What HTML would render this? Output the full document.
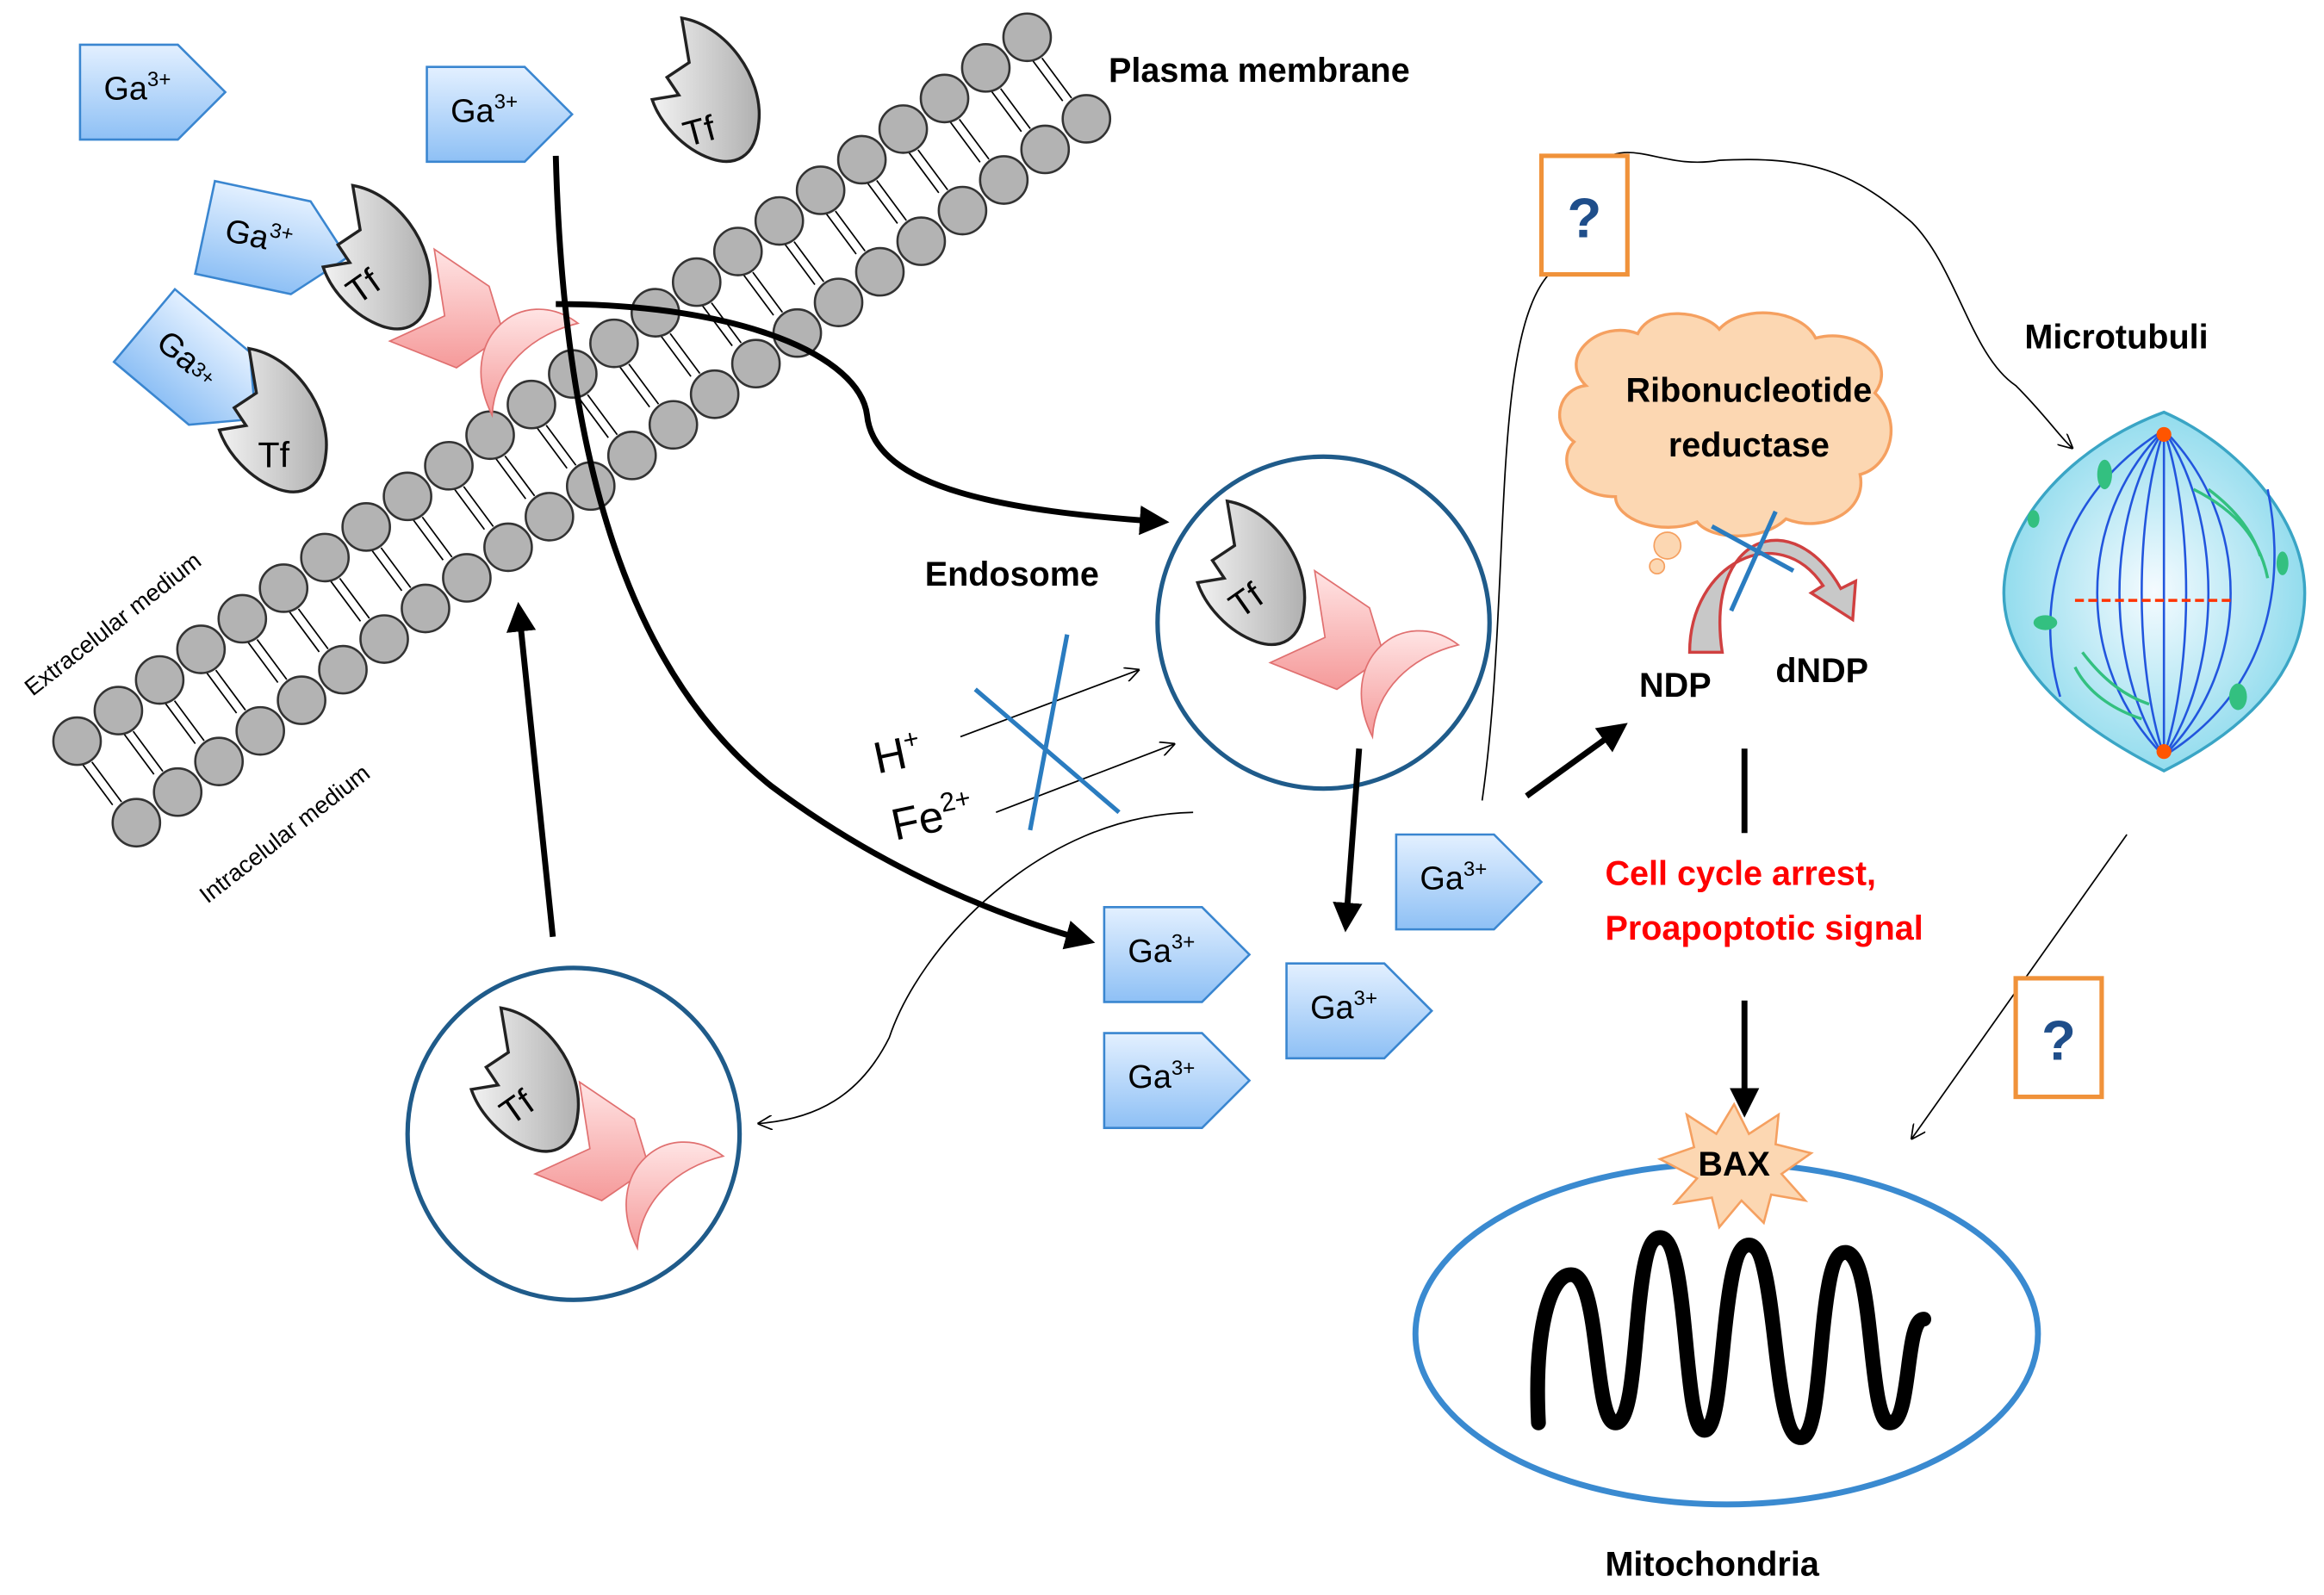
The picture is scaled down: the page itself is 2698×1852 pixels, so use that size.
<!DOCTYPE html>
<html><head><meta charset="utf-8"><style>
html,body{margin:0;padding:0;background:#fff;}
svg{display:block;}
text{font-family:"Liberation Sans",sans-serif;}
</style></head><body>
<svg id="s" width="2698" height="1852" viewBox="0 0 1568 1076" xmlns="http://www.w3.org/2000/svg">
<defs>
<linearGradient id="gb" x1="0" y1="0" x2="0" y2="1"><stop offset="0" stop-color="#e3f0ff"/><stop offset="1" stop-color="#8ec0f5"/></linearGradient>
<linearGradient id="gg" x1="0" y1="0" x2="1" y2="0"><stop offset="0" stop-color="#f2f2f2"/><stop offset="1" stop-color="#b0b0b0"/></linearGradient>
<linearGradient id="gp" x1="0" y1="0" x2="0" y2="1"><stop offset="0" stop-color="#ffe4e4"/><stop offset="1" stop-color="#f59a9a"/></linearGradient>
<radialGradient id="gc" cx="0.5" cy="0.5" r="0.6"><stop offset="0" stop-color="#f5fbff"/><stop offset="1" stop-color="#7fd6ea"/></radialGradient>
<marker id="ah" viewBox="0 0 10 10" refX="8" refY="5" markerWidth="5" markerHeight="5" orient="auto"><path d="M0,0 L10,5 L0,10 z" fill="#000"/></marker>
<marker id="at" viewBox="0 0 10 10" refX="9" refY="5" markerWidth="10" markerHeight="10" orient="auto"><path d="M0,0 L10,5 L0,10" fill="none" stroke="#000" stroke-width="1"/></marker>
<g id="ga"><path d="M0,0 H66 L98,32 L66,64 H0 Z" fill="url(#gb)" stroke="#3a86d0" stroke-width="1.5"/></g>
<g id="tf"><path d="M20,0 C50,5 75,40 72,70 C70,95 55,100 40,95 C20,88 5,70 0,55 L18,52 L10,40 L25,30 Z" fill="url(#gg)" stroke="#222" stroke-width="2"/></g>
<g id="rc"><path d="M25,0 L62,25 L72,58 L40,80 L-5,62 L32,45 Z" fill="url(#gp)" stroke="#e07070" stroke-width="1"/><path d="M122,50 C85,22 38,60 64,112 C66,80 90,58 122,50 Z" fill="url(#gp)" stroke="#e07070" stroke-width="1"/></g>
</defs>
<g id="mem"></g>

<use href="#ga" x="54" y="30"/><text x="70" y="67" font-size="22">Ga<tspan font-size="14" dy="-9">3+</tspan></text>
<use href="#ga" x="288" y="45"/><text x="304" y="82" font-size="22">Ga<tspan font-size="14" dy="-9">3+</tspan></text>
<g transform="translate(145,122) rotate(12)"><use href="#ga" x="0" y="0"/><text x="14" y="38" font-size="22">Ga<tspan font-size="14" dy="-9">3+</tspan></text></g>
<g transform="translate(118,195) rotate(40)"><use href="#ga" x="0" y="0"/><text x="14" y="38" font-size="22">Ga<tspan font-size="14" dy="-2">3+</tspan></text></g>
<use href="#ga" x="745" y="612"/><text x="761" y="649" font-size="22">Ga<tspan font-size="14" dy="-9">3+</tspan></text>
<use href="#ga" x="745" y="697"/><text x="761" y="734" font-size="22">Ga<tspan font-size="14" dy="-9">3+</tspan></text>
<use href="#ga" x="868" y="650"/><text x="884" y="687" font-size="22">Ga<tspan font-size="14" dy="-9">3+</tspan></text>
<use href="#ga" x="942" y="563"/><text x="958" y="600" font-size="22">Ga<tspan font-size="14" dy="-9">3+</tspan></text>

<g transform="translate(440,12)"><use href="#tf"/><text x="22" y="85" font-size="24" transform="rotate(-15 30 80)">Tf</text></g>
<g transform="translate(218,125)"><use href="#tf"/><text x="18" y="75" font-size="24" transform="rotate(-35 30 70)">Tf</text></g>
<g transform="translate(148,235)"><use href="#tf"/><text x="26" y="80" font-size="24">Tf</text></g>
<g transform="translate(808,338)"><use href="#tf"/><text x="24" y="75" font-size="24" transform="rotate(-35 34 70)">Tf</text></g>
<g transform="translate(318,680)"><use href="#tf"/><text x="22" y="75" font-size="24" transform="rotate(-35 32 70)">Tf</text></g>

<g transform="translate(268,168)"><use href="#rc"/></g>
<g transform="translate(862,385)"><use href="#rc"/></g>
<g transform="translate(366,730)"><use href="#rc"/></g>

<circle cx="893" cy="420" r="112" fill="none" stroke="#1f5b8a" stroke-width="3"/>
<circle cx="387" cy="765" r="112" fill="none" stroke="#1f5b8a" stroke-width="3"/>

<g fill="none" stroke="#000" stroke-width="4">
<path d="M375,105 C380,300 420,450 520,530 C600,590 680,620 735,635" marker-end="url(#ah)"/>
<path d="M375,205 C500,205 580,240 585,280 C590,330 680,345 785,352" marker-end="url(#ah)"/>
<path d="M373,632 L350,410" marker-end="url(#ah)"/>
<path d="M917,505 L908,625" marker-end="url(#ah)"/>
<path d="M1030,537 L1095,490" marker-end="url(#ah)"/>
<path d="M1177,675 L1177,750" marker-end="url(#ah)"/>
<path d="M1177,505 V562"/>
</g>
<g fill="none" stroke="#000" stroke-width="1">
<path d="M648,497 L768,452" marker-end="url(#at)"/>
<path d="M672,548 L792,502" marker-end="url(#at)"/>
<path d="M805,548 C700,550 620,640 600,700 C580,740 550,755 512,758" marker-end="url(#at)"/>
<path d="M1000,540 C1020,400 1005,230 1045,185"/>
<path d="M1075,112 C1100,90 1120,115 1160,108 C1220,105 1250,115 1290,150 C1320,180 1330,240 1360,260 C1380,280 1390,295 1398,302" marker-end="url(#at)"/>
<path d="M1435,563 L1290,768" marker-end="url(#at)"/>
</g>
<g stroke="#2a7cc0" stroke-width="3"><line x1="658" y1="465" x2="755" y2="548"/><line x1="720" y1="428" x2="695" y2="560"/></g>

<text x="748" y="55" font-size="23" font-weight="bold">Plasma membrane</text>
<text x="624" y="395" font-size="23" font-weight="bold">Endosome</text>
<text x="1366" y="235" font-size="23" font-weight="bold">Microtubuli</text>
<text x="1083" y="1063" font-size="23" font-weight="bold">Mitochondria</text>
<text x="22" y="470" font-size="16" transform="rotate(-38 22 470)">Extracelular medium</text>
<text x="140" y="610" font-size="16" transform="rotate(-38 140 610)">Intracelular medium</text>
<text x="592" y="522" font-size="30" transform="rotate(-12 592 522)">H<tspan font-size="18" dy="-12">+</tspan></text>
<text x="604" y="567" font-size="30" transform="rotate(-12 604 567)">Fe<tspan font-size="18" dy="-12">2+</tspan></text>

<rect x="1040" y="105" width="58" height="80" fill="#fff" stroke="#f0923a" stroke-width="3"/>
<text x="1069" y="160" font-size="38" font-weight="bold" fill="#1f4e8a" text-anchor="middle">?</text>
<rect x="1360" y="660" width="58" height="80" fill="#fff" stroke="#f0923a" stroke-width="3"/>
<text x="1389" y="715" font-size="38" font-weight="bold" fill="#1f4e8a" text-anchor="middle">?</text>

<path d="M1070,260 C1050,240 1080,215 1105,225 C1115,205 1150,210 1160,222 C1175,205 1215,208 1225,228 C1255,220 1280,245 1265,265 C1285,285 1275,315 1255,320 C1260,345 1230,360 1205,350 C1190,365 1155,365 1145,352 C1120,362 1090,350 1090,335 C1060,335 1050,310 1062,298 C1045,285 1052,262 1070,260 Z" fill="#fcd7b2" stroke="#f5a060" stroke-width="2"/>
<circle cx="1125" cy="368" r="9" fill="#fcd7b2" stroke="#f5a060"/><circle cx="1118" cy="382" r="5" fill="#fcd7b2" stroke="#f5a060"/>
<text x="1180" y="271" font-size="23" font-weight="bold" text-anchor="middle">Ribonucleotide</text>
<text x="1180" y="308" font-size="23" font-weight="bold" text-anchor="middle">reductase</text>
<path d="M1140,440 C1140,380 1200,350 1230,395 L1222,400 L1250,418 L1252,392 L1242,397 C1210,340 1150,360 1162,440 Z" fill="#c8c8c8" stroke="#d04040" stroke-width="2"/>
<g stroke="#2a7cc0" stroke-width="3"><line x1="1155" y1="355" x2="1210" y2="385"/><line x1="1198" y1="345" x2="1168" y2="412"/></g>
<text x="1106" y="470" font-size="23" font-weight="bold">NDP</text>
<text x="1198" y="460" font-size="23" font-weight="bold">dNDP</text>
<text x="1083" y="597" font-size="23" font-weight="bold" fill="#ff0000">Cell cycle arrest,</text>
<text x="1083" y="634" font-size="23" font-weight="bold" fill="#ff0000">Proapoptotic signal</text>

<path d="M1460,278 C1510,300 1555,350 1555,400 C1555,450 1520,490 1460,520 C1400,490 1352,450 1352,400 C1352,350 1400,300 1460,278 Z" fill="url(#gc)" stroke="#3aa5c5" stroke-width="2"/>
<g stroke="#2255dd" stroke-width="1.5" fill="none">
<path d="M1460,290 C1400,350 1400,450 1460,510"/><path d="M1460,290 C1420,350 1420,450 1460,510"/><path d="M1460,290 C1440,350 1440,450 1460,510"/><path d="M1460,290 L1460,510"/><path d="M1460,290 C1480,350 1480,450 1460,510"/><path d="M1460,290 C1500,350 1500,450 1460,510"/><path d="M1460,290 C1520,350 1520,450 1460,510"/><path d="M1460,290 C1380,340 1375,420 1390,470"/><path d="M1460,510 C1540,460 1540,380 1530,330"/>
</g>
<g fill="#33c080"><ellipse cx="1420" cy="320" rx="5" ry="10"/><ellipse cx="1380" cy="420" rx="8" ry="5"/><ellipse cx="1510" cy="470" rx="6" ry="9"/><ellipse cx="1540" cy="380" rx="4" ry="8"/><ellipse cx="1372" cy="350" rx="4" ry="6"/></g>
<g stroke="#33c080" stroke-width="2" fill="none"><path d="M1480,330 C1510,345 1525,365 1530,390"/><path d="M1490,330 C1510,345 1520,360 1525,375"/><path d="M1400,450 C1410,470 1430,480 1445,485"/><path d="M1405,440 C1420,460 1435,470 1450,475"/></g>
<path d="M1400,405 L1505,405" stroke="#ff3300" stroke-width="2" stroke-dasharray="6 3"/>
<circle cx="1460" cy="293" r="5" fill="#ff5500"/><circle cx="1460" cy="507" r="5" fill="#ff5500"/>

<ellipse cx="1165" cy="900" rx="210" ry="115" fill="none" stroke="#3a8ad0" stroke-width="4"/>
<path d="M1038,960 C1035,900 1045,860 1060,860 C1080,860 1075,960 1090,960 C1108,960 1100,835 1120,835 C1140,835 1135,965 1150,965 C1165,965 1160,840 1180,840 C1200,840 1195,970 1215,970 C1232,970 1225,845 1245,845 C1265,845 1260,960 1275,960 C1290,960 1285,890 1298,890" fill="none" stroke="#000" stroke-width="10" stroke-linecap="round"/>
<path d="M1170,745 L1180,765 L1200,752 L1198,772 L1222,778 L1202,792 L1218,810 L1195,806 L1190,825 L1175,810 L1160,828 L1155,808 L1130,812 L1145,795 L1120,782 L1143,774 L1138,752 L1158,765 Z" fill="#fcd7b2" stroke="#f5a060" stroke-width="1.5"/>
<text x="1170" y="793" font-size="23" font-weight="bold" text-anchor="middle">BAX</text>
</svg>
<script>
(function(){
var g=document.getElementById('mem'),h='';
var n=24,ax=52,ay=500,bx=693,by=25,ox=40,oy=55;
for(var i=0;i<n;i++){var t=i/(n-1),x=ax+(bx-ax)*t,y=ay+(by-ay)*t;
h+='<line x1="'+(x+10)+'" y1="'+(y+14)+'" x2="'+(x+ox-10)+'" y2="'+(y+oy-14)+'" stroke="#000" stroke-width="1"/>';
h+='<line x1="'+(x+4)+'" y1="'+(y+16)+'" x2="'+(x+ox-16)+'" y2="'+(y+oy-12)+'" stroke="#000" stroke-width="1"/>';}
for(var i=0;i<n;i++){var t=i/(n-1),x=ax+(bx-ax)*t,y=ay+(by-ay)*t;
h+='<circle cx="'+x+'" cy="'+y+'" r="16" fill="#b3b3b3" stroke="#333" stroke-width="1.5"/>';
h+='<circle cx="'+(x+ox)+'" cy="'+(y+oy)+'" r="16" fill="#b3b3b3" stroke="#333" stroke-width="1.5"/>';}
g.innerHTML=h;})();
</script>
</body></html>
